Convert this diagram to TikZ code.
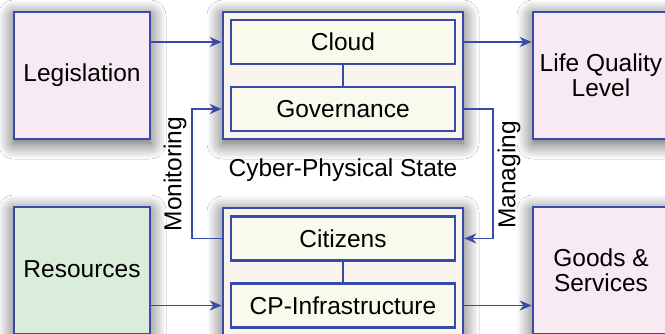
\documentclass[tikz,border=0pt]{standalone}
\usepackage{fontspec}
\setmainfont{Liberation Sans}
\usetikzlibrary{arrows.meta,shadows.blur}
\definecolor{edge}{RGB}{58,74,168}
\definecolor{pinkfill}{RGB}{248,234,242}
\definecolor{greenfill}{RGB}{218,236,218}
\definecolor{innerfill}{RGB}{249,249,236}
\definecolor{statefill}{RGB}{249,245,238}
\begin{document}
\begin{tikzpicture}[x=1pt,y=-1pt,font=\fontsize{24.5}{25}\selectfont,
  outer/.style={draw=edge,line width=2.6pt,inner sep=0pt,align=center,
    minimum width=136pt,minimum height=127pt,
    blur shadow={shadow xshift=0pt,shadow yshift=-4pt,shadow blur radius=16pt,
      shadow blur steps=12,shadow opacity=70}},
  state/.style={outer,fill=statefill,minimum width=240pt},
  part/.style={draw=edge,line width=2.2pt,fill=innerfill,minimum width=224pt,minimum height=44pt,inner sep=0pt},
  link/.style={draw=edge,line width=1.8pt},
  flow/.style={link,-{Stealth[length=12pt,width=10pt]}}]
\useasboundingbox (0,0) rectangle (665,334);
\fill[white] (0,0) rectangle (665,334);
% outer boxes
\node[outer,fill=pinkfill] (legislation) at (82,75.5) {Legislation};
\node[outer,fill=greenfill] (resources) at (82,270.5) {\raisebox{3pt}{Resources}};
\node[outer,fill=pinkfill] (life) at (601,75.5) {Life Quality\\Level};
\node[outer,fill=pinkfill] (goods) at (601,270.5) {Goods \&\\Services};
\node[state] (upper) at (343,75.5) {};
\node[state] (lower) at (343,271.5) {};
% parts of the state
\node[part] (cloud) at (343,42) {Cloud};
\node[part] (governance) at (343,109) {Governance};
\node[part] (citizens) at (343,238.5) {Citizens};
\node[part] (infra) at (343,305.5) {CP-Infrastructure};
\draw[link] (cloud) -- (governance);
\draw[link] (citizens) -- (infra);
\node (statelabel) at (343,170) {Cyber-Physical State};
\node[rotate=90] (monitoring) at (175,174) {Monitoring};
\node[rotate=90] (managing) at (509,175) {Managing};
% flows
\draw[flow] (legislation.east |- cloud) -- (upper.west |- cloud);
\draw[flow] (upper.east |- cloud) -- (life.west |- cloud);
\draw[flow] (resources.east |- infra) -- (lower.west |- infra);
\draw[flow] (lower.east |- infra) -- (goods.west |- infra);
\draw[flow] (lower.west |- citizens) -- ++(-30,0) |- (upper.west |- governance);
\draw[flow] (upper.east |- governance) -- ++(29,0) |- (lower.east |- citizens);
\end{tikzpicture}
\end{document}
